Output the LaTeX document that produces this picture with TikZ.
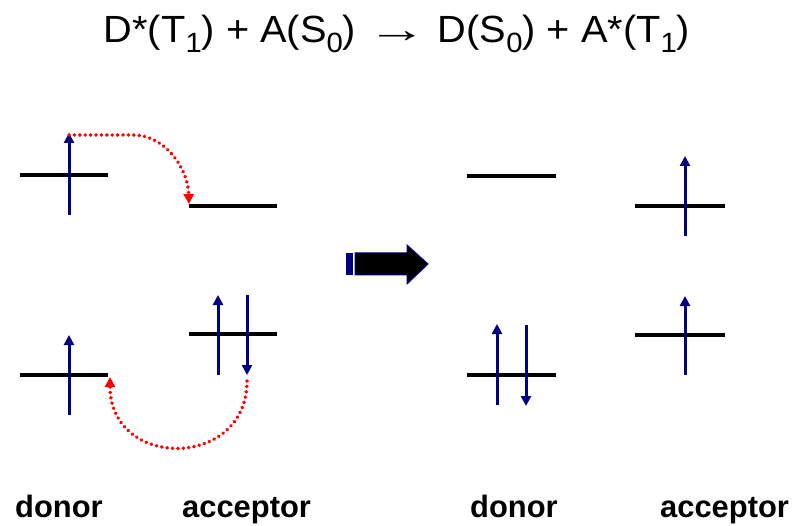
\documentclass[tikz,border=0pt]{standalone}
\usepackage{fontspec}
\usepackage{graphicx}
\setmainfont{Liberation Sans}
\usetikzlibrary{arrows.meta}
\definecolor{spinblue}{RGB}{0,0,128}
\definecolor{hopred}{RGB}{255,0,0}
\newcommand\sbsc[1]{\raisebox{-10bp}{\fontsize{28}{28}\selectfont #1}}
\tikzset{
  level/.style={draw=black, line width=3.3bp},
  spin/.style={draw=spinblue, line width=3bp, -{Triangle[width=10bp,length=10bp]}},
  hop/.style={draw=hopred, line width=3.8bp, line cap=round, dash pattern=on 0.1bp off 5.3bp,
              -{Triangle[width=10bp,length=10bp,fill=hopred]}},
  lbl/.style={font=\fontsize{31}{34}\selectfont\bfseries, anchor=base west, inner sep=0pt},
}
\begin{document}
\begin{tikzpicture}[x=1bp,y=-1bp]
\useasboundingbox (0,0) rectangle (794,526);
% title
\node[font=\fontsize{38}{42}\selectfont, inner sep=0pt, anchor=base] (title) at (397,43)
  {\scalebox{1.05}[1]{D*(T\sbsc{1}) + A(S\sbsc{0}) \scalebox{1.5}[1]{→} D(S\sbsc{0}) + A*(T\sbsc{1})}};

% ---------- left: before ----------
\coordinate (dLUa) at (20,175);  \coordinate (dLUb) at (108,175);
\coordinate (aLUa) at (189,206); \coordinate (aLUb) at (277,206);
\coordinate (dLLa) at (20,375);  \coordinate (dLLb) at (108,375);
\coordinate (aLLa) at (189,334); \coordinate (aLLb) at (277,334);
\draw[level] (dLUa) -- (dLUb);
\draw[level] (aLUa) -- (aLUb);
\draw[level] (dLLa) -- (dLLb);
\draw[level] (aLLa) -- (aLLb);
% spins
\coordinate (s1a) at (69,215); \coordinate (s1b) at (69,133);
\coordinate (s2a) at (69,415); \coordinate (s2b) at (69,335);
\coordinate (s3a) at (218,375); \coordinate (s3b) at (218,295);
\coordinate (s4a) at (247,295); \coordinate (s4b) at (247,375);
\draw[spin] (s1a) -- (s1b);
\draw[spin] (s2a) -- (s2b);
\draw[spin] (s3a) -- (s3b);
\draw[spin] (s4a) -- (s4b);
% electron hops
\coordinate (h1s) at (69,135);
\coordinate (h1m) at (133,135);
\coordinate (h1e) at (189,204);
\draw[hop] (h1s) -- (h1m) .. controls (165,135) and (188,168) .. (h1e);
\coordinate (h2s) at (247,381);
\coordinate (h2e) at (110,377);
\draw[hop] (h2s) .. controls (247,470) and (110,470) .. (h2e);

% ---------- block arrow ----------
\fill[spinblue] (346,253) rectangle (353,275);
\filldraw[fill=black, draw=spinblue, line width=1bp]
  (355,253) -- (407,253) -- (407,245) -- (428,264) -- (407,284) -- (407,275) -- (355,275) -- cycle;

% ---------- right: after ----------
\coordinate (dRUa) at (467,176); \coordinate (dRUb) at (556,176);
\coordinate (aRUa) at (635,206); \coordinate (aRUb) at (725,206);
\coordinate (dRLa) at (467,375); \coordinate (dRLb) at (556,375);
\coordinate (aRLa) at (635,335); \coordinate (aRLb) at (725,335);
\draw[level] (dRUa) -- (dRUb);
\draw[level] (aRUa) -- (aRUb);
\draw[level] (dRLa) -- (dRLb);
\draw[level] (aRLa) -- (aRLb);
\coordinate (r1a) at (685,236); \coordinate (r1b) at (685,156);
\coordinate (r2a) at (685,375); \coordinate (r2b) at (685,296);
\coordinate (r3a) at (497,405); \coordinate (r3b) at (497,324);
\coordinate (r4a) at (526,325); \coordinate (r4b) at (526,406);
\draw[spin] (r1a) -- (r1b);
\draw[spin] (r2a) -- (r2b);
\draw[spin] (r3a) -- (r3b);
\draw[spin] (r4a) -- (r4b);

% ---------- labels ----------
\node[lbl] (ld) at (15,517) {donor};
\node[lbl] (la) at (182,517) {acceptor};
\node[lbl] (rd) at (470,517) {donor};
\node[lbl] (ra) at (660,517) {acceptor};
\end{tikzpicture}
\end{document}
